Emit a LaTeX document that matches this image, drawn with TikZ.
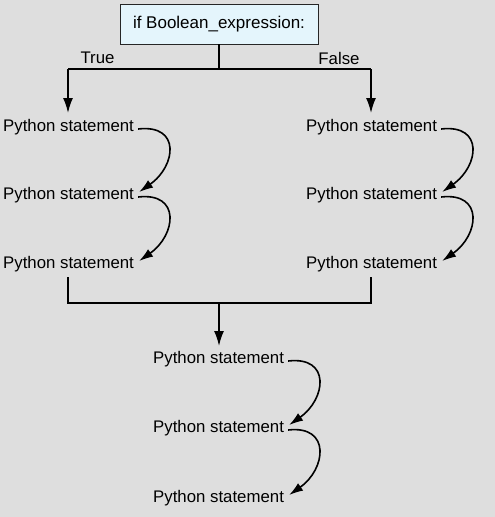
\documentclass[tikz,border=0pt]{standalone}
\usepackage{fontspec}
\setmainfont{Liberation Sans}
\usetikzlibrary{arrows.meta}
\definecolor{bg}{HTML}{DEDEDE}
\definecolor{condfill}{HTML}{E4F5FC}
\begin{document}
\begin{tikzpicture}[x=1pt,y=-1pt,
  stmt/.style={anchor=west,inner sep=0pt,font=\fontsize{16.8}{18}\selectfont},
  lbl/.style={inner sep=0pt,font=\fontsize{16.8}{18}\selectfont},
  cond/.style={draw=black!85,line width=0.8pt,fill=condfill,minimum width=198pt,minimum height=40pt,inner sep=0pt,font=\fontsize{17}{18}\selectfont},
  wire/.style={line width=1.6pt,draw=black},
  flow/.style={wire,-{Latex[length=15pt,width=10pt]}},
  next/.style={wire,-{Latex[length=14pt,width=9pt]}}]
  % canvas
  \fill[bg] (0,0) rectangle (495,517);
  \useasboundingbox (0,0) rectangle (495,517);

  % condition
  \node[cond] (cond) at (219,24) {if Boolean\_expression:};
  \coordinate (split) at (219,69);
  \coordinate (tl) at (68,69);
  \coordinate (fr) at (371,69);

  % True branch
  \node[stmt] (t1) at (3,127) {Python statement};
  \node[stmt] (t2) at (3,195) {Python statement};
  \node[stmt] (t3) at (3,264) {Python statement};
  % False branch
  \node[stmt] (f1) at (306,127) {Python statement};
  \node[stmt] (f2) at (306,195) {Python statement};
  \node[stmt] (f3) at (306,264) {Python statement};
  % after the if
  \node[stmt] (a1) at (153,359) {Python statement};
  \node[stmt] (a2) at (153,428) {Python statement};
  \node[stmt] (a3) at (153,498) {Python statement};

  \node[lbl] (tlab) at (97.5,58) {True};
  \node[lbl] (flab) at (339,58) {False};

  % branching
  \draw[wire] (cond.south) -- (split);
  \draw[wire] (tl) -- (fr);
  \draw[flow] (tl) -- (68,113);
  \draw[flow] (fr) -- (371,113);

  % merging
  \coordinate (ml) at (68,303);
  \coordinate (mr) at (371,303);
  \coordinate (merge) at (219,303);
  \draw[wire] (68,277) -- (ml) -- (mr) -- (371,277);
  \draw[flow] (merge) -- (219,346);

  % sequencing arrows
  \foreach \a/\b in {t1/t2,t2/t3,f1/f2,f2/f3,a1/a2,a2/a3}{
    \draw[next] ([xshift=4pt,yshift=-2pt]\a.east)
      .. controls ([xshift=47pt,yshift=3pt]\a.east) and ([xshift=42pt,yshift=29pt]\b.east)
      .. ([xshift=5pt,yshift=3pt]\b.east);
  }
\end{tikzpicture}
\end{document}
